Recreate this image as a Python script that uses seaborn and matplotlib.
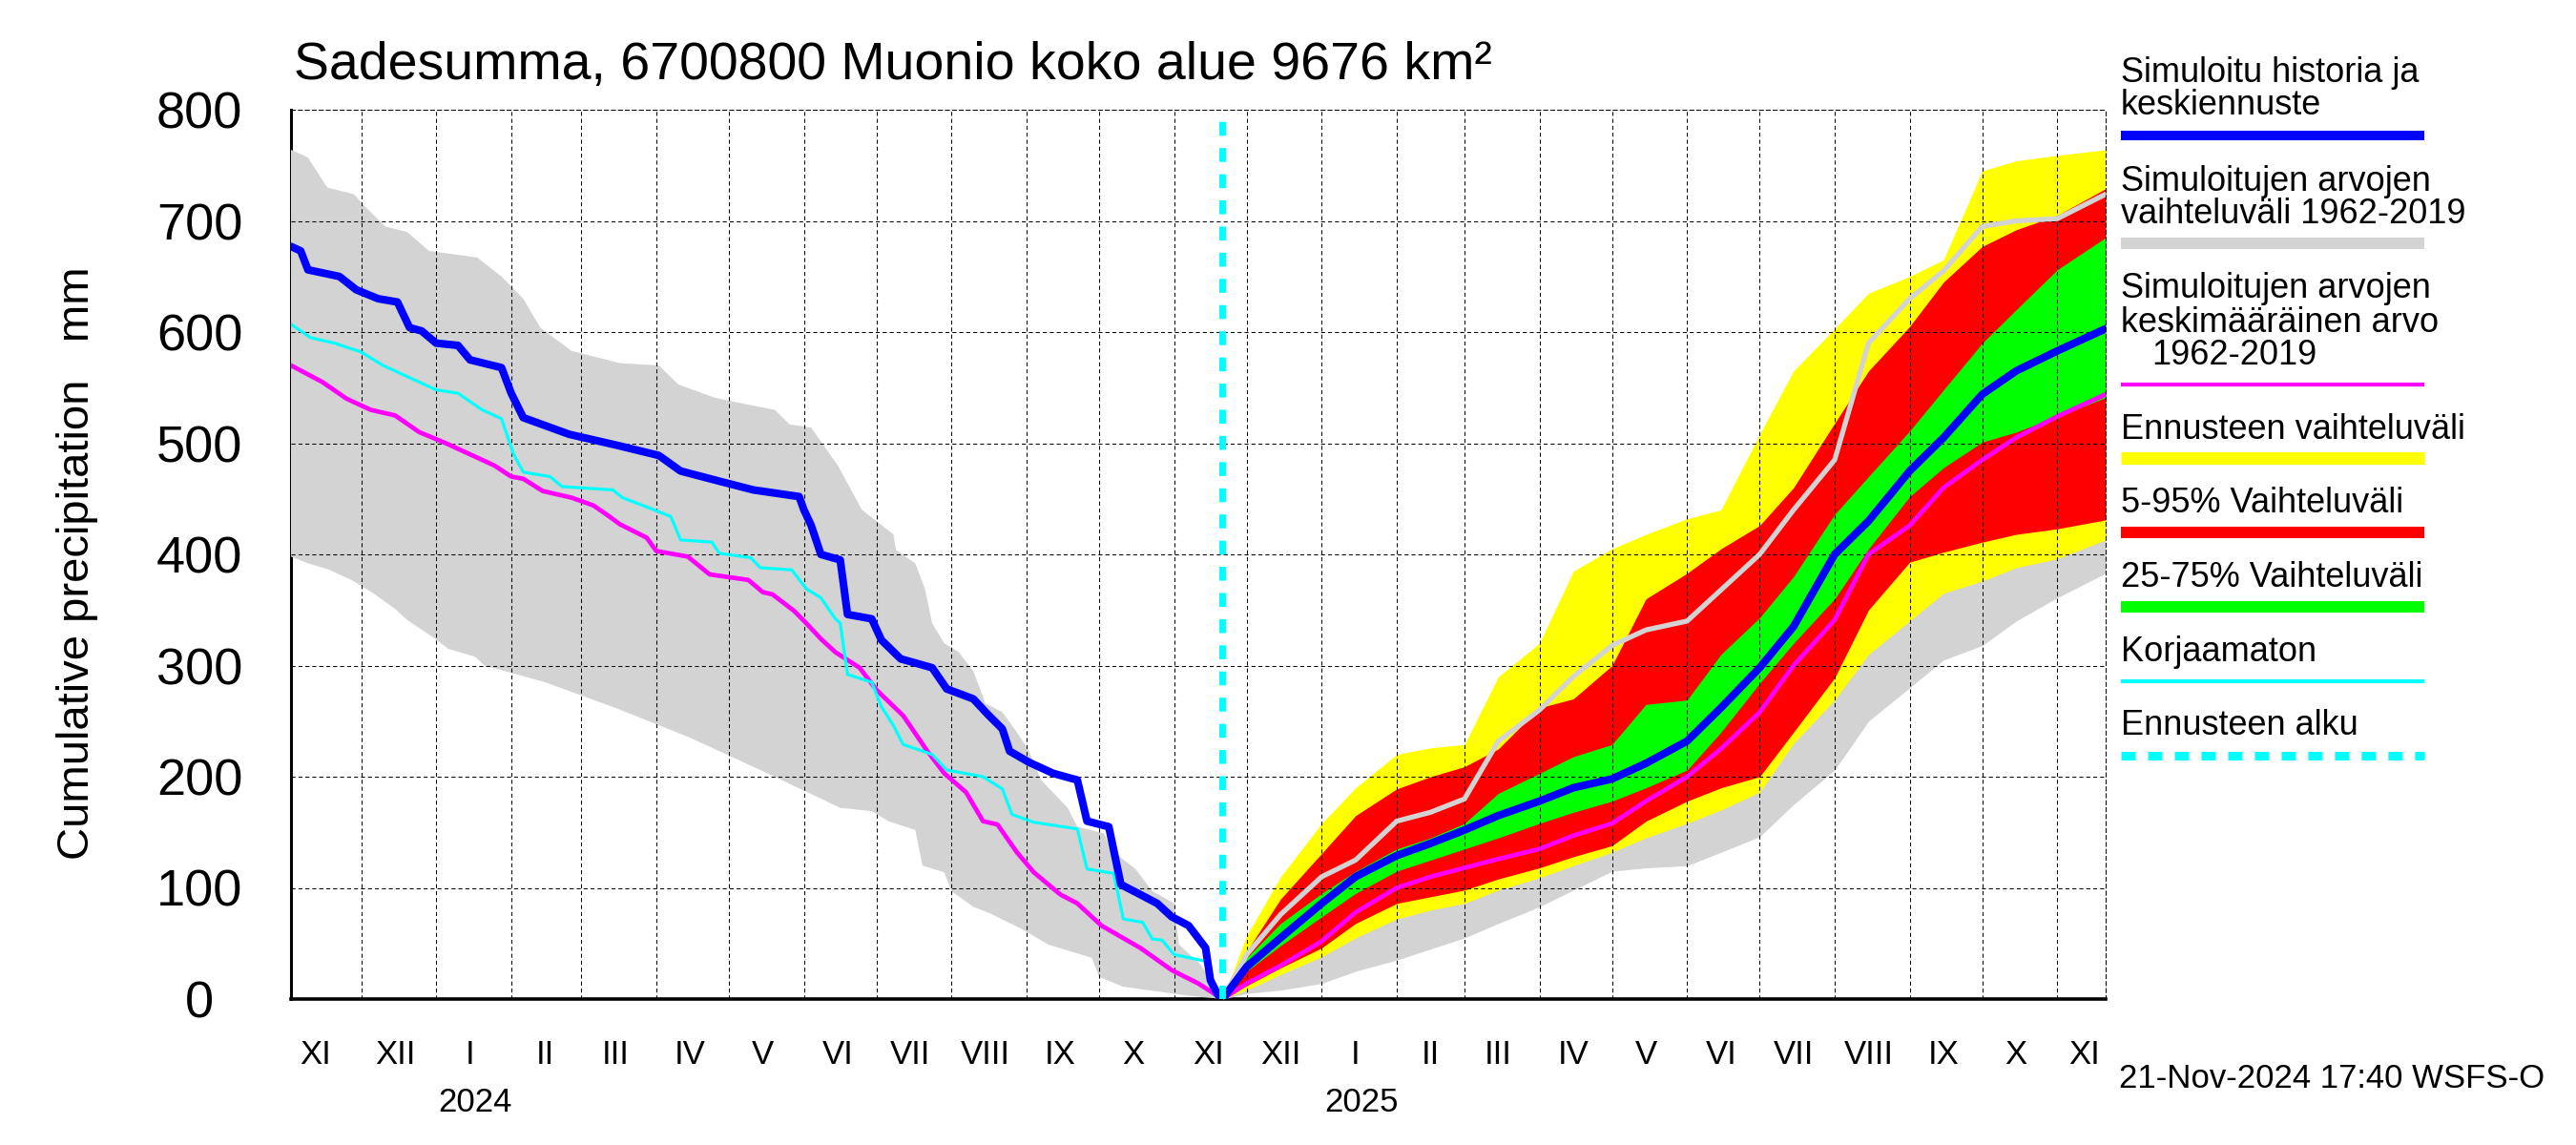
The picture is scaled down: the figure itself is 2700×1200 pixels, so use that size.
#!/usr/bin/python3
import numpy as np
import pandas as pd
import seaborn as sns
import matplotlib
matplotlib.use("Agg")
import matplotlib.pyplot as plt
from matplotlib.lines import Line2D
from matplotlib.ticker import NullFormatter

sns.set_style("white")
plt.rcParams['font.family'] = ['Liberation Sans', 'DejaVu Sans']
plt.rcParams['text.color'] = 'black'
plt.rcParams['axes.labelcolor'] = 'black'
plt.rcParams['xtick.color'] = 'black'
plt.rcParams['ytick.color'] = 'black'

# ---------- history (reverse cumulative sums up to the forecast start) ----------
blue_hist_dates = ["2023-11-02", "2023-11-06", "2023-11-09", "2023-11-22", "2023-11-29", "2023-12-08",
                   "2023-12-16", "2023-12-21", "2023-12-26", "2024-01-01", "2024-01-10", "2024-01-15",
                   "2024-01-28", "2024-02-01", "2024-02-06", "2024-02-25", "2024-03-16", "2024-04-02",
                   "2024-04-11", "2024-04-25", "2024-05-11", "2024-05-30", "2024-06-01", "2024-06-04",
                   "2024-06-08", "2024-06-16", "2024-06-19", "2024-06-29", "2024-07-03", "2024-07-11",
                   "2024-07-24", "2024-07-30", "2024-08-10", "2024-08-16", "2024-08-22", "2024-08-25",
                   "2024-09-02", "2024-09-12", "2024-09-22", "2024-09-26", "2024-10-05", "2024-10-10",
                   "2024-10-18", "2024-10-25", "2024-10-31", "2024-11-07", "2024-11-14", "2024-11-16",
                   "2024-11-19", "2024-11-21"]
blue_hist = [677, 673, 656, 650, 638, 630, 627, 604, 601, 590, 588, 575, 568, 545, 523, 508, 498, 489,
             475, 467, 458, 452, 440, 426, 400, 395, 346, 342, 323, 306, 298, 279, 270, 256, 243, 223,
             213, 203, 197, 160, 155, 103, 94, 86, 74, 66, 46, 17, 4, 0]

cyan_dates = ["2023-11-02", "2023-11-10", "2023-11-20", "2023-12-01", "2023-12-10", "2023-12-20",
              "2024-01-01", "2024-01-10", "2024-01-20", "2024-01-28", "2024-02-02", "2024-02-06",
              "2024-02-17", "2024-02-22", "2024-03-14", "2024-03-18", "2024-03-30", "2024-04-07",
              "2024-04-11", "2024-04-24", "2024-04-27", "2024-05-10", "2024-05-14", "2024-05-27",
              "2024-06-02", "2024-06-08", "2024-06-14", "2024-06-16", "2024-06-19", "2024-06-29",
              "2024-07-03", "2024-07-08", "2024-07-12", "2024-07-24", "2024-07-30", "2024-08-14",
              "2024-08-22", "2024-08-26", "2024-09-04", "2024-09-22", "2024-09-26", "2024-10-07",
              "2024-10-11", "2024-10-19", "2024-10-23", "2024-10-27", "2024-11-01", "2024-11-14",
              "2024-11-18", "2024-11-21"]
cyan_vals = [607, 595, 590, 582, 570, 560, 548, 545, 530, 522, 490, 474, 470, 461, 458, 451, 441, 434,
             413, 411, 401, 397, 388, 386, 369, 361, 342, 338, 292, 285, 263, 246, 229, 220, 206, 200,
             189, 166, 159, 153, 117, 113, 72, 69, 54, 53, 40, 34, 10, 0]

mag_hist_dates = ["2023-11-02", "2023-11-15", "2023-11-25", "2023-12-05", "2023-12-15", "2023-12-25",
                  "2024-01-05", "2024-01-15", "2024-01-25", "2024-02-01", "2024-02-06", "2024-02-14",
                  "2024-02-26", "2024-03-06", "2024-03-12", "2024-03-17", "2024-03-28", "2024-04-01",
                  "2024-04-14", "2024-04-23", "2024-05-09", "2024-05-15", "2024-05-19", "2024-05-28",
                  "2024-06-02", "2024-06-08", "2024-06-14", "2024-06-24", "2024-07-01", "2024-07-12",
                  "2024-07-22", "2024-07-29", "2024-08-07", "2024-08-14", "2024-08-20", "2024-08-28",
                  "2024-09-04", "2024-09-15", "2024-09-22", "2024-10-02", "2024-10-18", "2024-10-31",
                  "2024-11-11", "2024-11-21"]
mag_hist = [570, 555, 540, 530, 525, 510, 500, 490, 480, 470, 468, 457, 451, 444, 435, 427, 415, 403,
            398, 382, 377, 366, 364, 349, 338, 324, 312, 298, 278, 255, 223, 203, 186, 160, 157, 132,
            114, 94, 86, 66, 46, 26, 14, 0]

gray_hi_dates = ["2023-11-02", "2023-11-09", "2023-11-17", "2023-11-28", "2023-12-03", "2023-12-11",
                 "2023-12-20", "2023-12-29", "2024-01-18", "2024-01-28", "2024-02-06", "2024-02-13",
                 "2024-02-26", "2024-03-08", "2024-03-17", "2024-04-02", "2024-04-10", "2024-04-25",
                 "2024-05-06", "2024-05-20", "2024-05-26", "2024-06-04", "2024-06-15", "2024-06-25",
                 "2024-07-08", "2024-07-09", "2024-07-17", "2024-07-21", "2024-07-24", "2024-07-29",
                 "2024-08-04", "2024-08-10", "2024-08-15", "2024-08-22", "2024-08-28", "2024-09-02",
                 "2024-09-07", "2024-09-18", "2024-09-22", "2024-10-03", "2024-10-06", "2024-10-16",
                 "2024-10-23", "2024-11-01", "2024-11-03", "2024-11-12", "2024-11-21"]
gray_hi_hist = [764, 757, 730, 724, 712, 695, 690, 673, 667, 650, 630, 604, 583, 577, 572, 570, 553, 541,
                536, 530, 517, 514, 480, 440, 418, 404, 392, 369, 338, 320, 312, 295, 266, 258, 240, 223,
                197, 172, 155, 149, 134, 117, 97, 86, 49, 31, 0]

gray_lo_dates = ["2023-11-02", "2023-11-09", "2023-11-18", "2023-11-27", "2023-12-06", "2023-12-15",
                 "2023-12-20", "2023-12-31", "2024-01-06", "2024-01-17", "2024-01-21", "2024-02-15",
                 "2024-03-15", "2024-04-15", "2024-05-15", "2024-06-16", "2024-06-29", "2024-07-06",
                 "2024-07-17", "2024-07-20", "2024-07-29", "2024-08-01", "2024-08-10", "2024-08-17",
                 "2024-08-30", "2024-09-10", "2024-09-28", "2024-10-01", "2024-10-11", "2024-11-07",
                 "2024-11-21"]
gray_lo_hist = [398, 392, 386, 377, 365, 351, 341, 325, 315, 308, 300, 285, 262, 235, 205, 172, 169, 160,
                152, 120, 114, 97, 83, 77, 63, 49, 37, 20, 11, 3, 0]

# ---------- forecast ----------
fc_dates = ["2024-11-21", "2024-12-01", "2024-12-15", "2025-01-01", "2025-01-15", "2025-02-01",
            "2025-02-15", "2025-03-01", "2025-03-15", "2025-04-01", "2025-04-15", "2025-05-01",
            "2025-05-15", "2025-06-01", "2025-06-15", "2025-07-01", "2025-07-15", "2025-08-01",
            "2025-08-15", "2025-09-01", "2025-09-15", "2025-10-01", "2025-10-15", "2025-11-01",
            "2025-11-21"]
yellow_hi = [0, 57, 110, 158, 190, 220, 226, 229, 290, 320, 385, 405, 418, 432, 440, 508, 565, 603,
             635, 650, 665, 745, 754, 759, 764]
red_hi = [0, 43, 90, 131, 165, 189, 200, 209, 225, 262, 270, 300, 360, 383, 405, 426, 460, 518,
          565, 605, 645, 677, 692, 705, 729]
green_hi = [0, 37, 68, 95, 115, 135, 145, 158, 185, 203, 218, 229, 265, 269, 310, 343, 380, 436,
            470, 511, 548, 590, 620, 656, 685]
blue_fc = [0, 29, 55, 86, 110, 129, 140, 152, 165, 178, 190, 198, 212, 232, 262, 298, 335, 400,
           430, 475, 505, 544, 565, 583, 603]
green_lo = [0, 25, 48, 74, 95, 115, 125, 135, 145, 158, 168, 178, 190, 206, 240, 284, 320, 360,
            405, 452, 478, 501, 510, 524, 541]
mag_fc = [0, 14, 30, 52, 78, 100, 110, 118, 126, 135, 147, 158, 178, 200, 225, 258, 300, 341,
          400, 426, 460, 485, 505, 524, 544]
red_lo = [0, 12, 28, 46, 68, 86, 92, 98, 108, 118, 128, 138, 160, 178, 190, 200, 240, 289,
          350, 393, 402, 411, 418, 423, 431]
yellow_lo = [0, 8, 22, 38, 55, 72, 80, 86, 98, 109, 120, 132, 145, 158, 170, 186, 230, 269,
             310, 340, 365, 376, 388, 396, 413]
gray_line_fc = [0, 40, 76, 110, 125, 160, 168, 180, 232, 260, 290, 318, 332, 340, 368, 400, 440, 485,
                590, 630, 655, 695, 700, 702, 724]
gray_lo_fc = [0, 5, 8, 14, 25, 35, 45, 55, 68, 83, 98, 115, 118, 120, 132, 146, 175, 206,
              250, 280, 305, 318, 340, 361, 383]

roman = ["XI", "XII", "I", "II", "III", "IV", "V", "VI", "VII", "VIII", "IX", "X",
         "XI", "XII", "I", "II", "III", "IV", "V", "VI", "VII", "VIII", "IX", "X", "XI"]
years = ["2024", "2025"]

title = "Sadesumma, 6700800 Muonio koko alue 9676 km²"
stamp = "21-Nov-2024 17:40 WSFS-O"
forecast_start = "2024-11-21"

BLUE, MAG, CYAN, GRAY = "#0000ff", "#ff00ff", "#00ffff", "#d3d3d3"
YELLOW, RED, GREEN = "#ffff00", "#ff0000", "#00ff00"
W, H = 2700, 1200


def line(ax, dates, vals, color, lw, z):
    df = pd.DataFrame({"date": pd.to_datetime(dates), "val": vals})
    sns.lineplot(data=df, x="date", y="val", color=color, linewidth=lw, ax=ax,
                 errorbar=None, legend=False, zorder=z)


def main():
    fig = plt.figure(figsize=(27, 12), dpi=100)
    ax = fig.add_axes([305 / W, 1 - 1047 / H, (2207 - 305) / W, (1047 - 115) / H])

    fc = pd.to_datetime(fc_dates)

    # history band
    hx = np.concatenate([pd.to_datetime(gray_hi_dates).values, pd.to_datetime(gray_lo_dates).values[::-1]])
    hy = np.concatenate([gray_hi_hist, gray_lo_hist[::-1]])
    line(ax, blue_hist_dates, blue_hist, BLUE, 0, 0)  # sets the date axis
    ax.fill(hx, hy, color=GRAY, lw=0, zorder=1)

    # forecast bands
    ax.fill_between(fc, gray_lo_fc, gray_line_fc, color=GRAY, lw=0, zorder=1)
    ax.fill_between(fc, yellow_lo, yellow_hi, color=YELLOW, lw=0, zorder=1)
    ax.fill_between(fc, red_lo, red_hi, color=RED, lw=0, zorder=1)
    ax.fill_between(fc, green_lo, green_hi, color=GREEN, lw=0, zorder=1)

    # lines
    line(ax, fc_dates, gray_line_fc, GRAY, 3.8, 2)
    line(ax, mag_hist_dates + fc_dates[1:], mag_hist + mag_fc[1:], MAG, 3.4, 3)
    line(ax, cyan_dates, cyan_vals, CYAN, 2.3, 4)
    line(ax, blue_hist_dates + fc_dates[1:], blue_hist + blue_fc[1:], BLUE, 5.8, 5)
    ax.axvline(pd.Timestamp(forecast_start), color=CYAN, lw=5, linestyle=(0, (2.1, 1.85)), zorder=6)

    # axes
    ax.set_xlim(pd.Timestamp("2023-11-02"), pd.Timestamp("2025-11-21"))
    ax.set_ylim(0, 800)
    ax.set_xlabel("")
    ax.set_ylabel("Cumulative precipitation   mm", fontsize=34)
    ax.yaxis.label.set_va("center")
    ax.yaxis.set_label_coords(-0.118, 0.49)

    ax.set_yticks(range(0, 801, 100))
    ax.set_yticklabels([str(v) for v in range(0, 801, 100)])
    ax.tick_params(axis="y", direction="in", length=32, width=0.8, labelsize=39, pad=69)
    plt.setp(ax.get_yticklabels(), ha="center")
    for t, v in zip(ax.yaxis.get_major_ticks(), range(0, 801, 100)):
        if v == 800:
            t.tick1line.set_markeredgewidth(2.2)

    months = pd.date_range("2023-12-01", "2025-11-01", freq="MS")
    ax.set_xticks(months)
    ax.xaxis.set_major_formatter(NullFormatter())
    ax.tick_params(axis="x", which="major", direction="out", length=50, width=0.7, color="black")
    for t, m in zip(ax.xaxis.get_major_ticks(), months):
        if m.month == 1:
            t.tick1line.set_markeredgewidth(2.2)
    mids = ([pd.Timestamp("2023-11-12")]
            + list(pd.date_range("2023-12-01", "2025-10-01", freq="MS") + pd.Timedelta(days=14))
            + [pd.Timestamp("2025-11-12")])
    ax.set_xticks(mids, minor=True)
    ax.set_xticklabels(roman, minor=True)
    ax.tick_params(axis="x", which="minor", length=0, pad=30, labelsize=25)

    for y, d in zip(years, ["2024-01-02", "2025-01-02"]):
        ax.text(pd.Timestamp(d), -0.1266, y, transform=ax.get_xaxis_transform(),
                ha="left", va="baseline", fontsize=25)

    ax.set_axisbelow("line")
    ax.grid(True, which="major", color="black", linestyle=(0, (4, 3)), linewidth=0.75)
    for s in ["top", "right"]:
        ax.spines[s].set_linestyle((0, (4, 3)))
        ax.spines[s].set_linewidth(0.75)
        ax.spines[s].set_color("black")
    # solid spines sit under the bands, as in the original
    for s, lw in [("left", 2.2), ("bottom", 2.6)]:
        ax.spines[s].set_linewidth(lw)
        ax.spines[s].set_color("black")
        ax.spines[s].set_zorder(0.8)

    # title and stamp
    fig.text(308 / W, 1 - 83 / H, title, fontsize=40, va="baseline", ha="left")
    fig.text(2221 / W, 1 - 1140 / H, stamp, fontsize=25, va="baseline", ha="left")

    # legend drawn by hand at the right
    x0, x1 = 2223 / W, 2541 / W
    texts = [("Simuloitu historia ja", 86, 0), ("keskiennuste", 120, 0),
             ("Simuloitujen arvojen", 200, 0), ("vaihteluväli 1962-2019", 234, 0),
             ("Simuloitujen arvojen", 312, 0), ("keskimääräinen arvo", 348, 0), ("1962-2019", 382, 32),
             ("Ennusteen vaihteluväli", 460, 0), ("5-95% Vaihteluväli", 537, 0),
             ("25-75% Vaihteluväli", 615, 0), ("Korjaamaton", 693, 0), ("Ennusteen alku", 770, 0)]
    for s, yb, dx in texts:
        fig.text(x0 + dx / W, 1 - yb / H, s, fontsize=26, va="baseline", ha="left")
    handles = [(142, BLUE, 7.2, "-"), (255, GRAY, 8.6, "-"), (403, MAG, 3.0, "-"),
               (480, YELLOW, 9.4, "-"), (558, RED, 8.6, "-"), (636, GREEN, 8.6, "-"),
               (714, CYAN, 3.0, "-"), (792, CYAN, 6.5, (0, (1.66, 1.44)))]
    for yy, c, lw, ls in handles:
        fig.add_artist(Line2D([x0, x1], [1 - yy / H, 1 - yy / H], color=c, lw=lw, linestyle=ls,
                              solid_capstyle="butt", dash_capstyle="butt"))

    fig.savefig("out.png", dpi=100)


if __name__ == '__main__':
    main()
